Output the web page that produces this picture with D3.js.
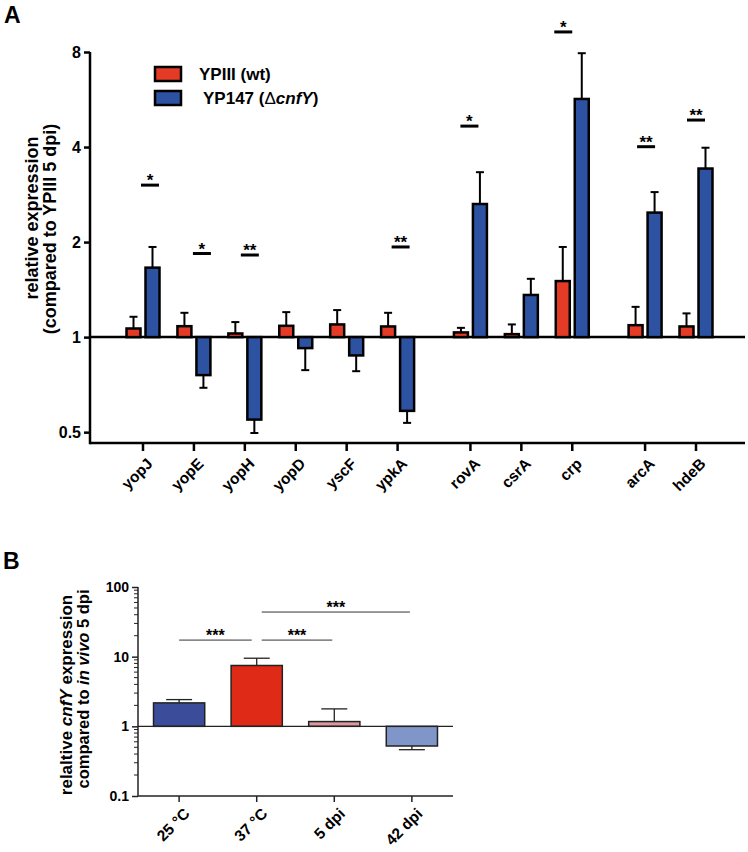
<!DOCTYPE html>
<html>
<head>
<meta charset="utf-8">
<script src="https://cdn.jsdelivr.net/npm/d3@7"></script>
<style>
  html, body { margin: 0; padding: 0; background: #fff; }
  svg { display: block; font-family: "Liberation Sans", Arial, Helvetica, sans-serif; }
</style>
</head>
<body>
<svg id="chart" width="748" height="852"></svg>
<script>
// ---------- Panel A data ----------
const genes      = ["yopJ","yopE","yopH","yopD","yscF","ypkA","rovA","csrA","crp","arcA","hdeB"];
const geneGroup  = [0,0,0,0,0,0,1,1,1,2,2];
const seriesA    = ["YPIII (wt)", "YP147 (ΔcnfY)"];
const wtMean     = [1.065,1.083,1.027,1.086,1.097,1.081,1.035,1.022,1.505,1.091,1.081];
const wtErrEnd   = [1.16,1.194,1.116,1.20,1.218,1.194,1.07,1.097,1.93,1.247,1.189];
const mutMean    = [1.66,0.758,0.548,0.923,0.875,0.584,2.64,1.36,5.68,2.48,3.42];
const mutErrEnd  = [1.93,0.691,0.497,0.786,0.78,0.535,3.33,1.53,7.93,2.88,3.98];
const sigLabel   = ["*","*","**","","","**","*","","*","**","**"];
const sigLevel   = [3.03,1.84,1.82,null,null,1.93,4.66,null,9.26,4.01,4.87];
const yTicksA    = [0.5,1,2,4,8];

// ---------- Panel B data ----------
const conds      = ["25 °C","37 °C","5 dpi","42 dpi"];
const condMean   = [2.17,7.47,1.17,0.522];
const condErrEnd = [2.42,9.5,1.78,0.462];
const compFrom   = ["25 °C","37 °C","37 °C"];
const compTo     = ["37 °C","5 dpi","42 dpi"];
const compLevel  = [17.3,17.3,43.7];
const compLabel  = ["***","***","***"];
const yTicksB    = [0.1,1,10,100];

// ---------- layout / style ----------
const RED = "#e33b26", BLUE = "#2d52a2";
const colorsB = ["#3a4c9a","#e02a18","#d89aa0","#8095c8"];
const groupGap = 0.43;
const sigShift = [7,8,5,0,0,3,-1,0,-9,1,0];

const svg = d3.select("#chart");

// ================= PANEL A =================
const A = { left: 90, right: 745, top: 52, bottom: 443 };
const slot = genes.map((g,i) => i + geneGroup[i]*groupGap);
const xA = d3.scaleLinear().domain([0, d3.max(slot)]).range([143, 696]);
const yA = d3.scaleLog().base(2).domain([0.462, 8]).range([A.bottom, A.top]);
const barW = 14, off = 9.5;

const gA = svg.append("g");

svg.append("text").attr("x", 4).attr("y", 23).attr("font-size", 23).attr("font-weight", "bold").text("A");

// baseline at 1
gA.append("line").attr("x1", A.left).attr("x2", A.right)
  .attr("y1", yA(1)).attr("y2", yA(1)).attr("stroke", "#000").attr("stroke-width", 2.5);

// error bars + bars
function drawBar(cx, mean, errEnd, fill) {
  const y0 = yA(1), y1 = yA(mean), ye = yA(errEnd);
  gA.append("line").attr("x1", cx).attr("x2", cx).attr("y1", y1).attr("y2", ye)
    .attr("stroke", "#000").attr("stroke-width", 2);
  gA.append("line").attr("x1", cx - 4).attr("x2", cx + 4).attr("y1", ye).attr("y2", ye)
    .attr("stroke", "#000").attr("stroke-width", 2);
  gA.append("rect").attr("x", cx - barW/2).attr("width", barW)
    .attr("y", Math.min(y0, y1)).attr("height", Math.abs(y1 - y0))
    .attr("fill", fill).attr("stroke", "#000").attr("stroke-width", 2.5);
}
genes.forEach((g,i) => {
  drawBar(xA(slot[i]) - off, wtMean[i], wtErrEnd[i], RED);
  drawBar(xA(slot[i]) + off, mutMean[i], mutErrEnd[i], BLUE);
});

// significance marks
genes.forEach((g,i) => {
  if (!sigLabel[i]) return;
  const cx = xA(slot[i]) + sigShift[i], y = yA(sigLevel[i]);
  gA.append("line").attr("x1", cx - 9).attr("x2", cx + 9).attr("y1", y).attr("y2", y)
    .attr("stroke", "#000").attr("stroke-width", 3);
  gA.append("text").attr("x", cx).attr("y", y + 1).attr("text-anchor", "middle")
    .attr("font-size", 17).attr("font-weight", "bold").text(sigLabel[i]);
});

// axes
const yAxisA = d3.axisLeft(yA).tickValues(yTicksA).tickFormat(d => d === 0.5 ? "0.5" : d3.format("d")(d))
  .tickSize(6).tickPadding(3);
const gyA = gA.append("g").attr("transform", `translate(${A.left},0)`).call(yAxisA);
gyA.select(".domain").remove();
gyA.selectAll(".tick line").attr("stroke-width", 2.5);
gyA.selectAll(".tick text").attr("font-size", 16).attr("font-weight", "bold").attr("fill", "#000")
  .attr("font-family", "Liberation Sans, Arial, sans-serif");
gA.append("line").attr("x1", A.left).attr("x2", A.left).attr("y1", A.top).attr("y2", A.bottom + 1.25)
  .attr("stroke", "#000").attr("stroke-width", 2.5);
gA.append("line").attr("x1", A.left).attr("x2", A.right).attr("y1", A.bottom).attr("y2", A.bottom)
  .attr("stroke", "#000").attr("stroke-width", 2.5);

genes.forEach((g,i) => {
  const x = xA(slot[i]);
  gA.append("line").attr("x1", x).attr("x2", x).attr("y1", A.bottom).attr("y2", A.bottom + 8)
    .attr("stroke", "#000").attr("stroke-width", 2.5);
  gA.append("text").attr("transform", `translate(${x + 3},${A.bottom + 14}) rotate(-45)`)
    .attr("text-anchor", "end").attr("dy", "0.7em").attr("font-size", 15.5).attr("font-weight", "bold").text(g);
});

// y label A
gA.append("text").attr("transform", "translate(38,218) rotate(-90)").attr("text-anchor", "middle")
  .attr("font-size", 18).attr("font-weight", "bold").text("relative expression");
gA.append("text").attr("transform", "translate(56,229) rotate(-90)").attr("text-anchor", "middle")
  .attr("font-size", 18).attr("font-weight", "bold").text("(compared to YPIII 5 dpi)");

// legend
const legY = [67, 91];
[RED, BLUE].forEach((c,i) => {
  gA.append("rect").attr("x", 155).attr("y", legY[i]).attr("width", 26).attr("height", 14)
    .attr("fill", c).attr("stroke", "#000").attr("stroke-width", 2.5);
});
gA.append("text").attr("x", 199).attr("y", 80).attr("font-size", 17).attr("font-weight", "bold").text(seriesA[0]);
const l2 = gA.append("text").attr("x", 203).attr("y", 104).attr("font-size", 17).attr("font-weight", "bold");
l2.append("tspan").text("YP147 (");
l2.append("tspan").attr("font-weight", "normal").text("Δ");
l2.append("tspan").attr("font-style", "italic").text("cnfY");
l2.append("tspan").text(")");

// ================= PANEL B =================
const B = { left: 138, right: 453, top: 587, bottom: 796 };
const xB = d3.scaleBand().domain(conds).range([B.left, B.right]).paddingInner(0.34).paddingOuter(0.2);
const yB = d3.scaleLog().domain([0.1, 100]).range([B.bottom, B.top]);
const gB = svg.append("g");

svg.append("text").attr("x", 3).attr("y", 569).attr("font-size", 23).attr("font-weight", "bold").text("B");

// bars & error bars
conds.forEach((c,i) => {
  const x0 = xB(c), w = xB.bandwidth(), cx = x0 + w/2;
  const y0 = yB(1), y1 = yB(condMean[i]), ye = yB(condErrEnd[i]);
  gB.append("line").attr("x1", cx).attr("x2", cx).attr("y1", y1).attr("y2", ye)
    .attr("stroke", "#222").attr("stroke-width", 1.3);
  gB.append("line").attr("x1", cx - 13).attr("x2", cx + 13).attr("y1", ye).attr("y2", ye)
    .attr("stroke", "#222").attr("stroke-width", 1.3);
  gB.append("rect").attr("x", x0).attr("width", w)
    .attr("y", Math.min(y0, y1)).attr("height", Math.abs(y1 - y0))
    .attr("fill", colorsB[i]).attr("stroke", "#222").attr("stroke-width", 1.5);
});
gB.append("line").attr("x1", B.left).attr("x2", B.right).attr("y1", yB(1)).attr("y2", yB(1))
  .attr("stroke", "#222").attr("stroke-width", 1.3);

// comparisons
compFrom.forEach((f,i) => {
  const t = compTo[i];
  const xf = xB(f) + xB.bandwidth()/2 + (f === "37 °C" ? 5 : 0);
  const xt = xB(t) + xB.bandwidth()/2 - (t === "37 °C" ? 5 : 2);
  const y = yB(compLevel[i]);
  gB.append("line").attr("x1", xf).attr("x2", xt).attr("y1", y).attr("y2", y)
    .attr("stroke", "#333").attr("stroke-width", 1);
  gB.append("text").attr("x", (xf + xt)/2).attr("y", y + 1).attr("text-anchor", "middle")
    .attr("font-size", 16).attr("font-weight", "bold").text(compLabel[i]);
});

// axes B
const minorTicks = yB.ticks().filter(d => !yTicksB.includes(d));
gB.selectAll(".minor").data(minorTicks).join("line")
  .attr("x1", B.left - 4).attr("x2", B.left).attr("y1", d => yB(d)).attr("y2", d => yB(d))
  .attr("stroke", "#222").attr("stroke-width", 1);
const yAxisB = d3.axisLeft(yB).tickValues(yTicksB).tickFormat(d => d < 1 ? "0.1" : d3.format("d")(d))
  .tickSize(6).tickPadding(3);
const gyB = gB.append("g").attr("transform", `translate(${B.left},0)`).call(yAxisB);
gyB.select(".domain").remove();
gyB.selectAll(".tick line").attr("stroke-width", 1.5).attr("stroke", "#222");
gyB.selectAll(".tick text").attr("font-size", 14).attr("font-weight", "bold").attr("fill", "#000")
  .attr("font-family", "Liberation Sans, Arial, sans-serif");
gB.append("line").attr("x1", B.left).attr("x2", B.left).attr("y1", B.top).attr("y2", B.bottom)
  .attr("stroke", "#222").attr("stroke-width", 1.5);
gB.append("line").attr("x1", B.left).attr("x2", B.right).attr("y1", B.bottom).attr("y2", B.bottom)
  .attr("stroke", "#222").attr("stroke-width", 1.5);
conds.forEach(c => {
  const x = xB(c) + xB.bandwidth()/2;
  gB.append("line").attr("x1", x).attr("x2", x).attr("y1", B.bottom).attr("y2", B.bottom + 6)
    .attr("stroke", "#222").attr("stroke-width", 1.5);
  gB.append("text").attr("transform", `translate(${x + 4},${B.bottom + 11}) rotate(-45)`)
    .attr("text-anchor", "end").attr("dy", "0.7em").attr("font-size", 15.5).attr("font-weight", "bold").text(c);
});

// y label B
const lb1 = gB.append("text").attr("transform", "translate(72,695) rotate(-90)").attr("text-anchor", "middle")
  .attr("font-size", 17).attr("font-weight", "bold");
lb1.append("tspan").text("relaltive ");
lb1.append("tspan").attr("font-style", "italic").text("cnfY");
lb1.append("tspan").text(" expression");
const lb2 = gB.append("text").attr("transform", "translate(89,689) rotate(-90)").attr("text-anchor", "middle")
  .attr("font-size", 16.5).attr("font-weight", "bold");
lb2.append("tspan").text("compared to ");
lb2.append("tspan").attr("font-style", "italic").text("in vivo");
lb2.append("tspan").text(" 5 dpi");
</script>
</body>
</html>
